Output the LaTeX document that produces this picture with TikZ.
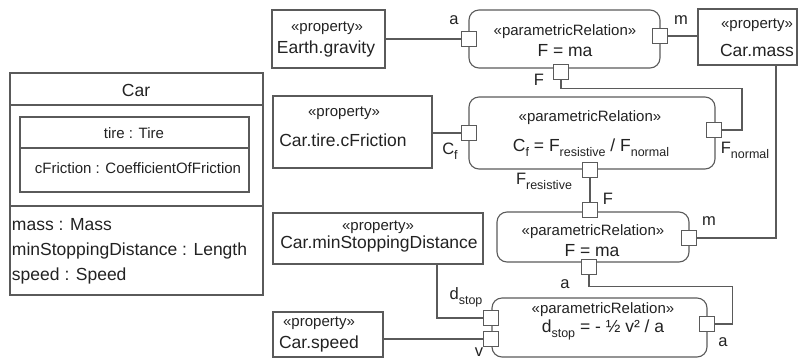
\documentclass[tikz,border=0pt]{standalone}
\usepackage{fontspec}
\setmainfont{Liberation Sans}
\definecolor{edge}{HTML}{5A5A5A}
\definecolor{ink}{HTML}{222222}
% lowered subscript in the current text size
\newcommand\sbs[1]{\raisebox{-5pt}{\fontsize{12.5}{14}\selectfont #1}}
\begin{document}
\begin{tikzpicture}[x=1pt,y=-1pt,
  every node/.style={inner sep=0pt,outer sep=0pt,text=ink},
  big/.style={font=\fontsize{17.5}{20}\selectfont,anchor=base},
  small/.style={font=\fontsize{15}{17}\selectfont,anchor=base},
  propbox/.style={draw=edge,line width=1.1pt,rectangle},
  relbox/.style={draw=edge,line width=1.1pt,rectangle,rounded corners=10pt},
  port/.style={draw=edge,line width=1.1pt,fill=white,rectangle,minimum size=15pt},
  wire/.style={draw=edge,line width=1.1pt},
  lbl/.style={font=\fontsize{16.5}{19}\selectfont},
]
\useasboundingbox (0,0) rectangle (809,360);

% ---- block Car with its compartments ----
\node[propbox,minimum width=253pt,minimum height=222pt] (car) at (136.5,184) {};
\draw[wire] (10,105) -- (263,105);
\draw[wire] (10,206) -- (263,206);
\node[propbox,minimum width=229pt,minimum height=75pt] (tire) at (134.5,154.5) {};
\draw[wire] (20,148) -- (249,148);
\node[big] (carname) at (136,96) {Car};
\node[small] (tirename) at (134,138) {tire : Tire};
\node[small] (cfr) at (138,173) {cFriction : CoefficientOfFriction};
\node[big,anchor=base west] (amass) at (12,230) {mass : Mass};
\node[big,anchor=base west] (amsd) at (12,255) {minStoppingDistance : Length};
\node[big,anchor=base west] (aspeed) at (12,280) {speed : Speed};

% ---- property parts ----
\node[propbox,minimum width=113pt,minimum height=58pt] (grav) at (328.5,39) {};
\node[small] at (327,31) {«property»};
\node[big] at (326,53) {Earth.gravity};

\node[propbox,minimum width=99pt,minimum height=56pt] (cmass) at (747.5,37) {};
\node[small] at (757,28) {«property»};
\node[big] at (757,56) {Car.mass};

\node[propbox,minimum width=159pt,minimum height=72pt] (cfric) at (352.5,132) {};
\node[small] at (344,116) {«property»};
\node[big] at (343,146) {Car.tire.cFriction};

\node[propbox,minimum width=210pt,minimum height=51pt] (minstop) at (378,238.5) {};
\node[small] at (378,230) {«property»};
\node[big] at (379,248) {Car.minStoppingDistance};

\node[propbox,minimum width=110pt,minimum height=45pt] (cspeed) at (328,334.5) {};
\node[small] at (319,326) {«property»};
\node[big] at (319,348) {Car.speed};

% ---- constraint properties ----
\node[relbox,minimum width=191pt,minimum height=58pt] (rel1) at (564.5,39) {};
\node[small] at (565,35) {«parametricRelation»};
\node[big] at (565,56) {F = ma};

\node[relbox,minimum width=246pt,minimum height=72pt] (rel2) at (592,133) {};
\node[small] at (590,121) {«parametricRelation»};
\node[big] at (591,151) {C\sbs{f} = F\sbs{resistive} / F\sbs{normal}};

\node[relbox,minimum width=192pt,minimum height=50pt] (rel3) at (593,237) {};
\node[small] at (593,235) {«parametricRelation»};
\node[big] at (592,256) {F = ma};

\node[relbox,minimum width=215pt,minimum height=59pt] (rel4) at (599.5,327.5) {};
\node[small] at (603,313) {«parametricRelation»};
\node[big] at (603,332) {d\sbs{stop} = - ½ v² / a};

% ---- constraint parameters ----
\node[port] (pa1) at (469,39) {};
\node[port] (pm1) at (660,36) {};
\node[port] (pF1) at (561,72) {};
\node[port] (pCf) at (469,133) {};
\node[port] (pFn) at (714,130) {};
\node[port] (pFr) at (590,170) {};
\node[port] (pF3) at (590,210) {};
\node[port] (pm3) at (689,238) {};
\node[port] (pa3) at (589,267) {};
\node[port] (pd) at (491,318) {};
\node[port] (pv) at (491,339) {};
\node[port] (pa4) at (707,324) {};

% parameter names
\node[lbl] at (454,20) {a};
\node[lbl] at (681,20) {m};
\node[lbl] at (539,80) {F};
\node[lbl] at (450,151) {C\sbs{f}};
\node[lbl] at (745,150) {F\sbs{normal}};
\node[lbl] at (544,181) {F\sbs{resistive}};
\node[lbl] at (608,199) {F};
\node[lbl] at (709,221) {m};
\node[lbl] at (565,284) {a};
\node[lbl] at (466,297) {d\sbs{stop}};
\node[lbl,anchor=base] at (479,356) {v};
\node[lbl] at (723,342) {a};

% ---- binding connectors ----
\draw[wire] (grav.east |- pa1) -- (pa1.west);
\draw[wire] (pm1.east) -- (cmass.west |- pm1);
\draw[wire] (pF1.south) -- ++(0,9) -| ([xshift=20.5pt]pFn.east) -- (pFn.east);
\draw[wire] ([xshift=28.5pt]cmass.south) |- (pm3.east);
\draw[wire] (cfric.east |- pCf) -- (pCf.west);
\draw[wire] (pFr.south) -- (pF3.north);
\draw[wire] (pa3.south) -- ++(0,12) -| ([xshift=18pt]pa4.east) -- (pa4.east);
\draw[wire] ([xshift=59pt]minstop.south) |- (pd.west);
\draw[wire] (cspeed.east |- pv) -- (pv.west);
\end{tikzpicture}
\end{document}
